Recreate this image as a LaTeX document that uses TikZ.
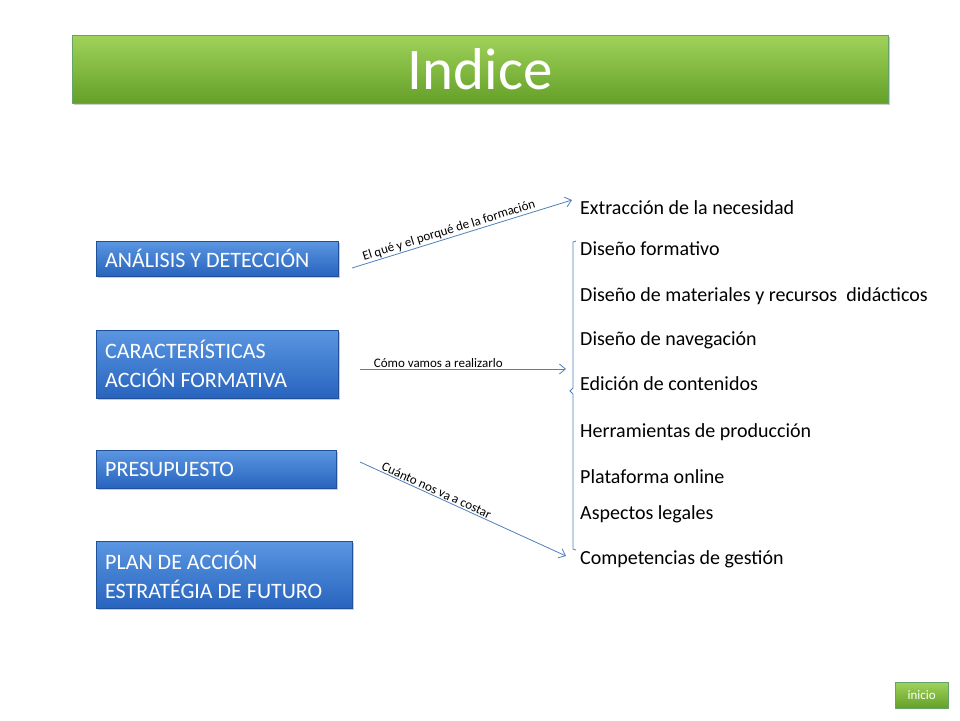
\documentclass[tikz,border=0pt]{standalone}
\usepackage{fontspec}
\setmainfont{Carlito}
\usetikzlibrary{arrows.meta,shadows}
\definecolor{ln}{RGB}{79,129,189}
\definecolor{bluetop}{RGB}{90,150,225}
\definecolor{bluebot}{RGB}{40,100,190}
\tikzset{
 bbox/.style={draw=bluebot!80!black, top color=bluetop, bottom color=bluebot, anchor=north west, inner sep=0pt, drop shadow={shadow xshift=1.5pt,shadow yshift=-1.5pt,opacity=0.4}},
 btxt/.style={text=white, font=\fontsize{22}{29}\selectfont, align=left, anchor=west, inner sep=0pt},
 itm/.style={anchor=west, font=\fontsize{20}{25}\selectfont, inner sep=0pt},
 arr/.style={draw=ln, -{Straight Barb[length=6pt,width=10pt]}, line width=0.8pt},
 lbl/.style={font=\fontsize{13}{15}\selectfont, inner sep=1pt}
}
\begin{document}
\begin{tikzpicture}[x=1pt,y=-1pt]
\useasboundingbox (0,0) rectangle (960,720);
\fill[white] (0,0) rectangle (960,720);
\node[draw=green!40!black!60, top color={rgb,255:red,160;green,210;blue,90}, bottom color={rgb,255:red,100;green,160;blue,40}, minimum width=816pt, minimum height=68pt, anchor=north west, inner sep=0pt, text=white, font=\fontsize{59}{60}\selectfont, drop shadow={shadow xshift=2pt,shadow yshift=-2pt,opacity=0.4}] (title) at (72,35) {\raisebox{-6pt}{Indice}};

\node[bbox, minimum width=242pt, minimum height=35pt] (a) at (96,241) {};
\node[btxt] (at) at ([xshift=9pt]a.west) {ANÁLISIS Y DETECCIÓN};
\node[bbox, minimum width=242pt, minimum height=68pt] (c) at (96,330) {};
\node[btxt] (ct) at ([xshift=9pt]c.west) {CARACTERÍSTICAS\\ACCIÓN FORMATIVA};
\node[bbox, minimum width=240pt, minimum height=38pt] (p) at (96,450) {};
\node[btxt] (pt) at ([xshift=9pt]p.west) {PRESUPUESTO};
\node[bbox, minimum width=256pt, minimum height=67pt] (pl) at (96,541) {};
\node[btxt] (plt) at ([xshift=9pt]pl.west) {PLAN DE ACCIÓN\\ESTRATÉGIA DE FUTURO};

\node[itm] (i1) at (580,208) {Extracción de la necesidad};
\node[itm] (i2) at (580,249) {Diseño formativo};
\node[itm] (i3) at (580,296) {Diseño de materiales y recursos\ \ didácticos};
\node[itm] (i4) at (580,340) {Diseño de navegación};
\node[itm] (i5) at (580,384) {Edición de contenidos};
\node[itm] (i6) at (580,432) {Herramientas de producción};
\node[itm] (i7) at (580,477) {Plataforma online};
\node[itm] (i8) at (580,514) {Aspectos legales};
\node[itm] (i9) at (580,559) {Competencias de gestión};

\coordinate (s1) at (352,268); \coordinate (e1) at (572,200);
\coordinate (s2) at (360,369); \coordinate (e2) at (566,369);
\coordinate (s3) at (360,462); \coordinate (e3) at (566,556);
\draw[arr] (s1) -- (e1) node[lbl, pos=0.45, above, sloped] {El qué y el porqué de la formación};
\draw[arr] (s2) -- (e2) node[lbl, pos=0.38, above] {Cómo vamos a realizarlo};
\draw[arr] (s3) -- (e3) node[lbl, pos=0.36, above, sloped] {Cuánto nos va a costar};

\draw[ln, line width=0.8pt] (576,241) -- (573,242) -- (573,388) -- (570,391) -- (573,394) -- (573,549) -- (576,550);

\node[draw=green!40!black!60, top color={rgb,255:red,160;green,210;blue,90}, bottom color={rgb,255:red,100;green,160;blue,40}, minimum width=53pt, minimum height=26pt, anchor=north west, inner sep=0pt, text=white, font=\fontsize{13}{14}\selectfont, drop shadow={shadow xshift=1pt,shadow yshift=-1pt,opacity=0.4}] (ini) at (895,682) {inicio};
\end{tikzpicture}
\end{document}
